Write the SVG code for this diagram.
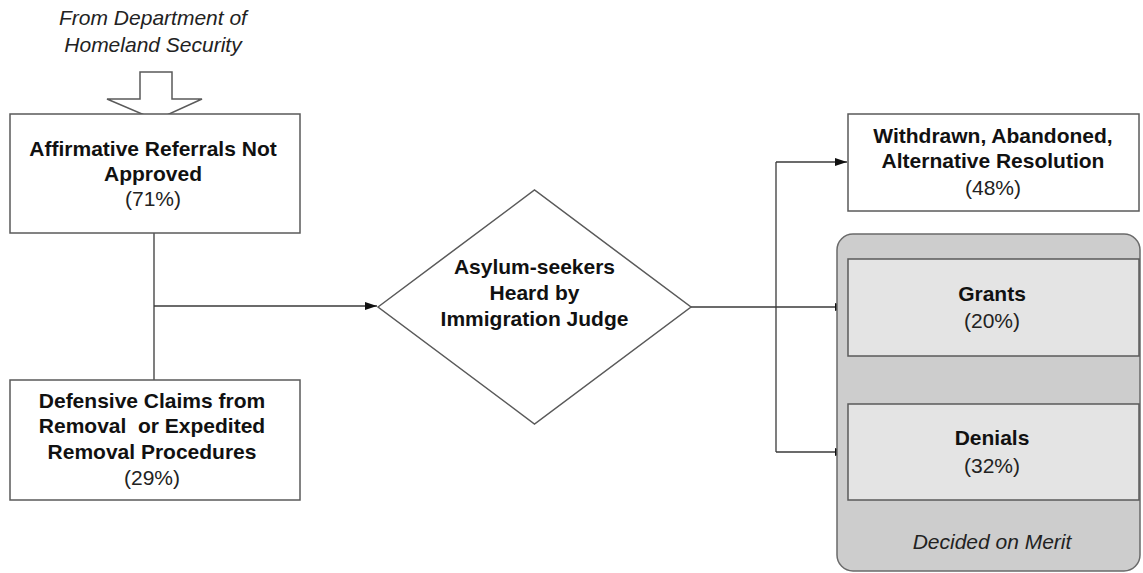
<svg xmlns="http://www.w3.org/2000/svg" width="1143" height="573" viewBox="0 0 1143 573">
<style>
.box{fill:#fff;stroke:#5a5a5a;stroke-width:1.5}
.inner{fill:#e4e4e4;stroke:#5a5a5a;stroke-width:1.5}
.cont{fill:#cdcdcd;stroke:#6a6a6a;stroke-width:1.5}
.ln{fill:none;stroke:#3a3a3a;stroke-width:1.3}
.b{font-family:"Liberation Sans",Arial,sans-serif;font-weight:bold;font-size:21px;fill:#111;text-anchor:middle}
.r{font-family:"Liberation Sans",Arial,sans-serif;font-size:21px;fill:#222;text-anchor:middle}
.i{font-family:"Liberation Sans",Arial,sans-serif;font-style:italic;font-size:21px;fill:#222;text-anchor:middle}
</style>
<defs>
<marker id="ah" markerWidth="12" markerHeight="8" refX="12" refY="4" orient="auto" markerUnits="userSpaceOnUse">
<path d="M0,0 L12,4 L0,8 Z" fill="#111"/>
</marker>
</defs>
<g id="dhs">
<text class="i" x="153" y="25">From Department of</text>
<text class="i" x="153" y="52">Homeland Security</text>
<polygon points="140,72 172,72 172,99 202,99 156,120 107,99 140,99" fill="#fff" stroke="#5a5a5a" stroke-width="1.5"/>
</g>
<g id="connectors">
<path class="ln" d="M154,233 V380"/>
<path class="ln" d="M154,306 H377" marker-end="url(#ah)"/>
<path class="ln" d="M691,307 H847" marker-end="url(#ah)"/>
<path class="ln" d="M776,162 V452"/>
<path class="ln" d="M776,162 H847" marker-end="url(#ah)"/>
<path class="ln" d="M776,452 H847" marker-end="url(#ah)"/>
</g>
<g id="affirmative">
<rect class="box" x="10" y="114" width="290" height="119"/>
<text class="b" x="153" y="156">Affirmative Referrals Not</text>
<text class="b" x="153" y="181">Approved</text>
<text class="r" x="153" y="206">(71%)</text>
</g>
<g id="defensive">
<rect class="box" x="10" y="380" width="290" height="120"/>
<text class="b" x="152" y="408">Defensive Claims from</text>
<text class="b" x="152" y="433" xml:space="preserve">Removal  or Expedited</text>
<text class="b" x="152" y="459">Removal Procedures</text>
<text class="r" x="152" y="485">(29%)</text>
</g>
<g id="judge">
<polygon class="box" points="378,307 534.5,190 691,307 534.5,424"/>
<text class="b" x="534.5" y="274">Asylum-seekers</text>
<text class="b" x="534.5" y="300">Heard by</text>
<text class="b" x="534.5" y="326">Immigration Judge</text>
</g>
<g id="withdrawn">
<rect class="box" x="848" y="114" width="291" height="97"/>
<text class="b" x="993" y="143">Withdrawn, Abandoned,</text>
<text class="b" x="993" y="168">Alternative Resolution</text>
<text class="r" x="993" y="195">(48%)</text>
</g>
<g id="merit">
<rect class="cont" x="837" y="234" width="303" height="337" rx="16" ry="16"/>
<text class="i" x="992" y="549">Decided on Merit</text>
</g>
<g id="grants">
<rect class="inner" x="848" y="259" width="291" height="97"/>
<text class="b" x="992" y="301">Grants</text>
<text class="r" x="992" y="328">(20%)</text>
</g>
<g id="denials">
<rect class="inner" x="848" y="404" width="291" height="96"/>
<text class="b" x="992" y="445">Denials</text>
<text class="r" x="992" y="473">(32%)</text>
</g>
</svg>
